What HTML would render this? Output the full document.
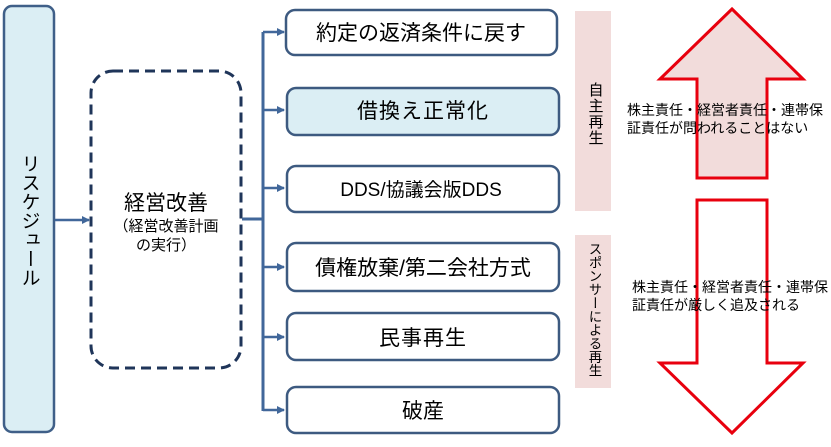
<!DOCTYPE html>
<html><head><meta charset="utf-8"><style>
html,body{margin:0;padding:0;background:#fff;}
svg{display:block;}
text{font-family:"Liberation Sans","Noto Sans CJK JP",sans-serif;fill:#000;}
</style></head><body>
<svg width="831" height="447" viewBox="0 0 831 447" xmlns="http://www.w3.org/2000/svg">
<defs>
<marker id="ah" markerWidth="8" markerHeight="8" refX="7" refY="4" orient="auto" markerUnits="userSpaceOnUse">
<path d="M0,0 L8,4 L0,8 z" fill="#41679a"/>
</marker>
</defs>
<!-- left box -->
<rect x="4" y="6" width="50" height="426" rx="8" fill="#dbeef4" stroke="#3f5f88" stroke-width="2.5"/>
<text x="29" y="154" font-size="19" writing-mode="tb" style="writing-mode:vertical-rl" text-anchor="start" letter-spacing="0">リスケジュール</text>
<!-- arrow to dashed box -->
<line x1="55" y1="220" x2="89" y2="220" stroke="#41679a" stroke-width="2.5" marker-end="url(#ah)"/>
<!-- dashed box -->
<rect x="91" y="71" width="150" height="297" rx="22" fill="#fff" stroke="#1f3559" stroke-width="3" stroke-dasharray="10,6"/>
<text x="166" y="210" font-size="21" text-anchor="middle">経営改善</text>
<text x="166" y="231" font-size="15" text-anchor="middle">（経営改善計画</text>
<text x="166" y="250" font-size="15" text-anchor="middle">の実行）</text>
<!-- connectors -->
<line x1="242" y1="219" x2="263" y2="219" stroke="#41679a" stroke-width="3"/>
<line x1="263" y1="32" x2="263" y2="411" stroke="#41679a" stroke-width="3"/>
<g stroke="#41679a" stroke-width="2.5" marker-end="url(#ah)">
<line x1="263" y1="32" x2="284" y2="32"/>
<line x1="263" y1="110" x2="284" y2="110"/>
<line x1="263" y1="188" x2="284" y2="188"/>
<line x1="263" y1="267" x2="284" y2="267"/>
<line x1="263" y1="337" x2="284" y2="337"/>
<line x1="263" y1="410" x2="284" y2="410"/>
</g>
<!-- boxes -->
<g stroke="#3d5a80" stroke-width="2.5">
<rect x="286" y="10" width="271" height="45" rx="9" fill="#fff"/>
<rect x="287" y="88" width="272" height="47" rx="9" fill="#dbeef4"/>
<rect x="287" y="166" width="272" height="46" rx="9" fill="#fff"/>
<rect x="287" y="243" width="272" height="48" rx="9" fill="#fff"/>
<rect x="287" y="313" width="272" height="47" rx="9" fill="#fff"/>
<rect x="287" y="387" width="272" height="46" rx="9" fill="#fff"/>
</g>
<text x="421" y="40" font-size="21" text-anchor="middle">約定の返済条件に戻す</text>
<text x="423" y="118" font-size="21" text-anchor="middle" letter-spacing="1">借換え正常化</text>
<text x="421" y="196" font-size="19" text-anchor="middle">DDS/協議会版DDS</text>
<text x="423" y="275" font-size="21" text-anchor="middle">債権放棄/第二会社方式</text>
<text x="423" y="345" font-size="21" text-anchor="middle" letter-spacing="1">民事再生</text>
<text x="423" y="418" font-size="21" text-anchor="middle">破産</text>
<!-- pink bars -->
<rect x="575" y="11" width="36" height="200" fill="#f2dcdb"/>
<rect x="575" y="235" width="36" height="153" fill="#f2dcdb"/>
<text x="595" y="82" font-size="15" style="writing-mode:vertical-rl" letter-spacing="1">自主再生</text>
<text x="594" y="242" font-size="13.5" style="writing-mode:vertical-rl">スポンサーによる再生</text>
<!-- red arrows -->
<polygon points="732,9 803,79 767,79 767,178 697,178 697,79 660,79" fill="#f2dcdb" stroke="#e8000e" stroke-width="3" stroke-linejoin="miter"/>
<polygon points="697,200 767,200 767,363 803,363 732,433 660,363 697,363" fill="#fff" stroke="#e8000e" stroke-width="3" stroke-linejoin="miter"/>
<text x="627" y="115" font-size="14">株主責任・経営者責任・連帯保</text>
<text x="627" y="133" font-size="14">証責任が問われることはない</text>
<text x="632" y="292" font-size="14">株主責任・経営者責任・連帯保</text>
<text x="632" y="310" font-size="14">証責任が厳しく追及される</text>
</svg>
</body></html>
